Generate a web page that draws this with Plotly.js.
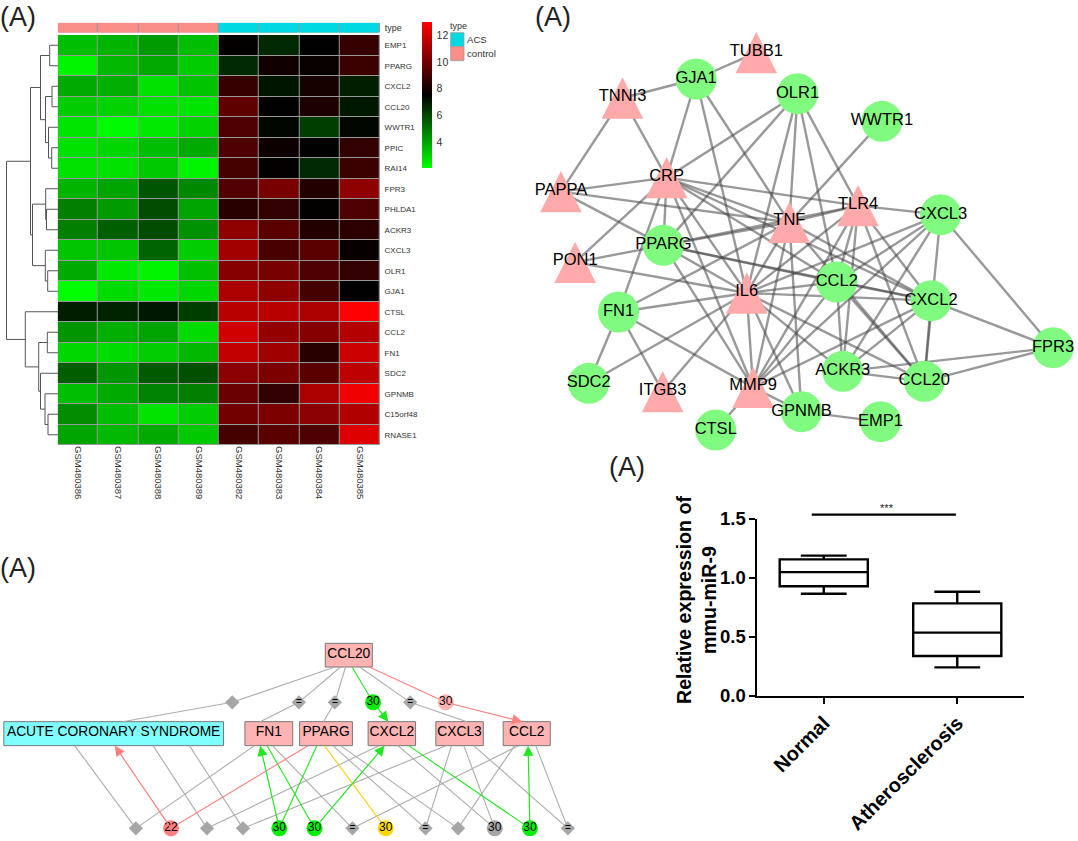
<!DOCTYPE html>
<html><head><meta charset="utf-8">
<script src="https://cdn.plot.ly/plotly-3.0.1.min.js"></script>
<style>html,body{margin:0;padding:0;background:#fff}#c{width:1078px;height:841px}</style>
</head><body><div id="c"></div>
<script>
// ---------- heatmap data ----------
const genes = ["EMP1","PPARG","CXCL2","CCL20","WWTR1","PPIC","RAI14","FPR3","PHLDA1","ACKR3","CXCL3","OLR1","GJA1","CTSL","CCL2","FN1","SDC2","GPNMB","C15orf48","RNASE1"];
const samples = ["GSM480386","GSM480387","GSM480388","GSM480389","GSM480382","GSM480383","GSM480384","GSM480385"];
const sampleType = [1,1,1,1,0,0,0,0];
const expr = [
[3.44,3.65,4.19,3.44,7.6,6.65,7.5,8.7],
[2.26,3.55,3.87,3.12,6.65,7.9,7.7,8.8],
[3.87,3.76,2.7,3.33,8.7,7.07,8.0,6.86],
[3.12,3.0,2.7,2.6,9.55,7.5,8.15,7.0],
[2.6,2.16,2.5,3.0,9.2,7.4,6.2,7.4],
[2.7,2.9,3.44,3.87,9.2,7.8,7.5,8.6],
[2.7,2.7,3.2,2.26,9.0,7.6,6.65,8.8],
[3.65,4.0,5.7,4.6,9.3,10.1,8.25,10.6],
[4.8,4.2,5.9,4.0,8.4,8.6,7.6,9.2],
[4.8,5.47,5.9,4.4,10.6,9.45,8.25,8.5],
[3.3,3.3,5.36,3.1,11.0,9.1,9.45,7.65],
[3.87,2.5,2.26,3.4,10.4,10.1,9.2,8.6],
[2.05,2.8,2.5,2.9,11.2,10.6,9.0,7.5],
[6.86,6.75,7.0,6.2,11.5,11.5,11.2,13.0],
[4.3,3.76,4.0,2.8,12.0,10.7,10.4,11.4],
[2.9,2.8,3.1,3.55,11.7,10.95,8.4,11.9],
[5.5,4.3,5.6,5.8,10.5,10.2,9.45,11.6],
[3.44,3.87,4.7,4.8,9.8,8.6,11.2,12.7],
[4.5,3.44,2.6,3.1,10.0,10.2,10.5,11.3],
[4.0,3.55,3.87,3.2,9.0,9.45,9.2,12.3]];
const typeNames = ["ACS","control"];
const typeColors = ["#00D8E2","#FA8E88"];
// dendrogram brackets: [row A, height A, row B, height B, merge height]
const dendroMerges = [
[0,0,1,0,8.3],[2,0,3,0,6],[5,0,6,0,6.3],[4,0,5.5,6.3,9.5],[2.5,6,4.75,9.5,12.5],[0.5,8.3,3.63,12.5,17.5],
[8,0,9,0,11.5],[7,0,8.5,11.5,12.3],[11,0,12,0,10.3],[10,0,11.5,10.3,12.7],[7.75,12.3,10.75,12.7,25.5],
[2.06,17.5,9.25,25.5,27.5],[14,0,15,0,10.7],[18,0,19,0,10],[17,0,18.5,10,13],[16,0,17.75,13,17.5],
[14.5,10.7,16.88,17.5,19.3],[13,0,15.69,19.3,32.7],[5.66,27.5,14.35,32.7,51.5]];
// ---------- network data (drawing units of the panel) ----------
const circleNames = ["GJA1","OLR1","WWTR1","CXCL3","PPARG","CCL2","CXCL2","FN1","FPR3","ACKR3","CCL20","SDC2","GPNMB","EMP1","CTSL"];
const circleX = [495,780,1017,1182,403,890,1155,277,1498,907,1136,193,791,1013,550];
const circleY = [237,281,364,644,736,846,902,936,1043,1114,1144,1150,1235,1265,1290];
const triNames = ["TUBB1","TNNI3","CRP","PAPPA","TLR4","TNF","PON1","IL6","ITGB3","MMP9"];
const triX = [664,288,412,115,950,757,155,637,401,655];
const triY = [158,294,533,575,617,667,787,879,1175,1162];
const netEdges = [["TUBB1","GJA1"],["GJA1","TNNI3"],["GJA1","CRP"],["GJA1","IL6"],["GJA1","TNF"],["TNNI3","PAPPA"],["TNNI3","CRP"],
["OLR1","CRP"],["OLR1","PPARG"],["OLR1","IL6"],["OLR1","TNF"],["OLR1","CCL2"],["OLR1","TLR4"],["WWTR1","TNF"],
["PAPPA","CRP"],["PAPPA","TNF"],["PAPPA","PPARG"],["CRP","TLR4"],["CRP","TNF"],["CRP","PPARG"],["CRP","PON1"],["CRP","FN1"],["CRP","IL6"],["CRP","MMP9"],["CRP","CCL2"],["CRP","CXCL2"],
["TNF","TLR4"],["TNF","PPARG"],["TNF","FN1"],["TNF","IL6"],["TNF","MMP9"],["TNF","GPNMB"],["TNF","CCL20"],["TNF","CXCL2"],
["TLR4","CXCL3"],["TLR4","IL6"],["TLR4","MMP9"],["TLR4","CCL2"],["TLR4","ACKR3"],["TLR4","CCL20"],["TLR4","CXCL2"],["TLR4","PPARG"],
["PON1","PPARG"],["PON1","IL6"],["PPARG","IL6"],["PPARG","CCL2"],["PPARG","MMP9"],["PPARG","CXCL2"],
["FN1","IL6"],["FN1","SDC2"],["FN1","ITGB3"],["FN1","MMP9"],["SDC2","IL6"],["ITGB3","IL6"],
["IL6","CXCL3"],["IL6","CCL2"],["IL6","CXCL2"],["IL6","ACKR3"],["IL6","CCL20"],["IL6","MMP9"],["IL6","GPNMB"],
["CXCL3","CCL2"],["CXCL3","ACKR3"],["CXCL3","CCL20"],["CXCL3","FPR3"],["CXCL3","MMP9"],
["CCL2","CXCL2"],["CCL2","ACKR3"],["CCL2","CCL20"],["CCL2","MMP9"],["CXCL2","MMP9"],["CXCL2","ACKR3"],["CXCL2","FPR3"],["CXCL2","CCL20"],
["ACKR3","CCL20"],["ACKR3","FPR3"],["CCL20","FPR3"],["MMP9","CTSL"],["GPNMB","EMP1"],["MMP9","GPNMB"]];
// ---------- pathway data (drawing units of the panel) ----------
const boxNames = ["CCL20","ACUTE CORONARY SYNDROME","FN1","PPARG","CXCL2","CXCL3","CCL2"];
const boxX0 = [850,10,640,783,962,1139,1315];
const boxX1 = [973,584,765,921,1086,1263,1438];
const boxY0 = [70,305,305,305,305,305,305];
const boxY1 = [141,377,377,377,377,377,377];
const boxFill = ["#FFB3B3","#80FFFF","#FFB3B3","#FFB3B3","#FFB3B3","#FFB3B3","#FFB3B3"];
const pathX = [607,781,875,975,1072,1165,355,447,541,635,730,822,921,1008,1112,1197,1293,1385,1484];
const pathY = [247,247,247,247,247,247,625,625,625,625,625,625,625,625,625,625,625,625,625];
const pathLabel = ["","=","=","30","=","30","","22","","","30","30","=","30","=","","30","30","="];
const pathKind = ["d","d","d","c","d","c","d","c","d","d","c","c","d","c","d","d","c","c","d"];
const pathColor = ["#A6A6A6","#A6A6A6","#A6A6A6","#00EE00","#A6A6A6","#FFB3B3","#A6A6A6","#FF8080","#A6A6A6","#A6A6A6","#00EE00","#00EE00","#A6A6A6","#FFD700","#A6A6A6","#A6A6A6","#A6A6A6","#00EE00","#A6A6A6"];
const greyEdges = [[875,141,607,247],[890,141,781,247],[903,141,875,247],[940,141,1072,247],[607,247,320,305],[781,247,680,305],[875,247,845,305],[1072,247,1220,305],
[195,377,355,625],[400,377,541,625],[495,377,635,625],[665,377,355,625],[712,377,921,625],[870,377,1112,625],[890,377,1197,625],[990,377,541,625],[1040,377,1293,625],
[1165,377,635,625],[1180,377,1112,625],[1212,377,1293,625],[1238,377,1484,625],[1355,377,921,625],[1345,377,1197,625],[1400,377,1484,625]];
const greenEdges = [[920,141,975,247],[698,377,822,625],[828,377,730,625],[1068,377,1385,625]];
const pinkEdges = [[965,141,1165,247],[805,377,447,625]];
const yellowEdges = [[848,377,1008,625]];
const greenArrows = [[975,247,1015,305],[730,625,680,377],[822,625,1005,377],[1385,625,1380,377]];
const pinkArrows = [[1165,247,1365,305],[447,625,300,377]];
// ---------- box plot data ----------
const boxCats = ["Normal","Atherosclerosis"];
const boxPos = [0,1];
const q1 = [0.93,0.339];
const med = [1.05,0.537];
const q3 = [1.158,0.785];
const lowF = [0.867,0.243];
const upF = [1.19,0.884];
const sigX = [-0.09,0.99];
const sigY = [1.537,1.537];
const sigTextX = [0.47];
const sigTextY = [1.585];

// ---------- layout helpers ----------
const W=1078,H=841;
const dx=(a,b)=>[a/W,b/W];
const dy=(t,b)=>[1-b/H,1-t/H];
const AX={showgrid:false,zeroline:false,showline:false,ticks:'',showticklabels:false,fixedrange:true};
const FONT='"Liberation Sans",Arial,sans-serif';
const traces=[];

// heatmap
traces.push({type:'heatmap',x:samples,y:genes,z:expr,xaxis:'x',yaxis:'y',xgap:1,ygap:1,zmin:2.05,zmax:13,hoverinfo:'skip',
 colorscale:[[0,'#00FF00'],[0.5,'#000000'],[1,'#FF0000']],
 colorbar:{x:422/W,xanchor:'left',xpad:0,y:1-22/H,yanchor:'top',ypad:0,thickness:10,thicknessmode:'pixels',len:146,lenmode:'pixels',
  tickvals:[4,6,8,10,12],ticks:'outside',ticklen:3,tickcolor:'rgba(0,0,0,0)',outlinewidth:0,tickfont:{family:FONT,size:10.5,color:'#333'}}});
// annotation strip
traces.push({type:'heatmap',x:samples,y:['type'],z:[sampleType],xaxis:'x2',yaxis:'y2',xgap:1,ygap:0,zmin:0,zmax:1,showscale:false,hoverinfo:'skip',
 colorscale:[[0,typeColors[0]],[1,typeColors[1]]]});
// dendrogram
{const xs=[],ys=[];
 dendroMerges.forEach(m=>{xs.push(m[1],m[4],m[4],m[3],null);ys.push(m[0],m[0],m[2],m[2],null);});
 traces.push({type:'scatter',mode:'lines',x:xs,y:ys,xaxis:'x3',yaxis:'y3',line:{color:'#555',width:1},hoverinfo:'skip',connectgaps:false});}

// network edges
const nodeXY={};
circleNames.forEach((n,i)=>nodeXY[n]=[circleX[i],circleY[i]]);
triNames.forEach((n,i)=>nodeXY[n]=[triX[i],triY[i]]);
netEdges.forEach(e=>{const a=nodeXY[e[0]],b=nodeXY[e[1]];
 traces.push({type:'scatter',mode:'lines',x:[a[0],b[0]],y:[a[1],b[1]],xaxis:'x4',yaxis:'y4',line:{color:'rgba(70,70,70,0.55)',width:2.4},hoverinfo:'skip'});});
// network nodes
{const tx=[],ty=[];
 triX.forEach((x,i)=>{tx.push(x-58.5,x+58.5,x,x-58.5,null);ty.push(triY[i]+62,triY[i]+62,triY[i]-62,triY[i]+62,null);});
 traces.push({type:'scatter',mode:'lines',x:tx,y:ty,xaxis:'x4',yaxis:'y4',fill:'toself',fillcolor:'#FFAAAA',line:{width:0,color:'#FFAAAA'},hoverinfo:'skip'});}
traces.push({type:'scatter',mode:'markers',x:circleX,y:circleY,xaxis:'x4',yaxis:'y4',cliponaxis:false,marker:{size:41,color:'#80FB80',line:{width:0}},hoverinfo:'skip'});
traces.push({type:'scatter',mode:'text',x:circleX.concat(triX),y:circleY.concat(triY.map(v=>v-3)),text:circleNames.concat(triNames),xaxis:'x4',yaxis:'y4',cliponaxis:false,
 textposition:'middle center',textfont:{family:FONT,size:16.5,color:'#000'},hoverinfo:'skip'});

// pathway edges
function edgeTrace(list,color){const xs=[],ys=[];list.forEach(e=>{xs.push(e[0],e[2],null);ys.push(e[1],e[3],null);});
 traces.push({type:'scatter',mode:'lines',x:xs,y:ys,xaxis:'x5',yaxis:'y5',line:{color:color,width:1.1},hoverinfo:'skip'});}
edgeTrace(greyEdges,'#ADADAD');edgeTrace(greenEdges,'#22E622');edgeTrace(pinkEdges,'#FF8080');edgeTrace(yellowEdges,'#FFCC11');
// pathway small nodes
const idxD=pathKind.map((k,i)=>k==='d'?i:-1).filter(i=>i>=0), idxC=pathKind.map((k,i)=>k==='c'?i:-1).filter(i=>i>=0);
traces.push({type:'scatter',mode:'markers+text',x:idxD.map(i=>pathX[i]),y:idxD.map(i=>pathY[i]),text:idxD.map(i=>pathLabel[i]),xaxis:'x5',yaxis:'y5',cliponaxis:false,
 marker:{symbol:'diamond',size:11,color:idxD.map(i=>pathColor[i])},textposition:'middle center',textfont:{family:FONT,size:10,color:'#000'},hoverinfo:'skip'});
traces.push({type:'scatter',mode:'markers+text',x:idxC.map(i=>pathX[i]),y:idxC.map(i=>pathY[i]),text:idxC.map(i=>pathLabel[i]),xaxis:'x5',yaxis:'y5',cliponaxis:false,
 marker:{symbol:'circle',size:16,color:idxC.map(i=>pathColor[i])},textposition:'middle center',textfont:{family:FONT,size:12,color:'#000'},hoverinfo:'skip'});
// pathway box labels
traces.push({type:'scatter',mode:'text',x:boxX0.map((v,i)=>(v+boxX1[i])/2),y:boxY0.map((v,i)=>(v+boxY1[i])/2-2),text:boxNames,xaxis:'x5',yaxis:'y5',cliponaxis:false,
 textposition:'middle center',textfont:{family:FONT,size:13.8,color:'#000'},hoverinfo:'skip'});

// box plot
traces.push({type:'box',x:boxPos,q1:q1,median:med,q3:q3,lowerfence:lowF,upperfence:upF,xaxis:'x6',yaxis:'y6',width:0.66,whiskerwidth:0.52,
 fillcolor:'rgba(0,0,0,0)',line:{color:'#000',width:2.4},hoverinfo:'skip'});
traces.push({type:'scatter',mode:'lines',x:sigX,y:sigY,xaxis:'x7',yaxis:'y7',line:{color:'#000',width:2.2},hoverinfo:'skip'});
traces.push({type:'scatter',mode:'text',x:sigTextX,y:sigTextY,text:['***'],xaxis:'x7',yaxis:'y7',textposition:'middle center',textfont:{family:FONT,size:11,color:'#222'},hoverinfo:'skip'});

// shapes
const shapes=[];
shapes.push({type:'rect',xref:'x',yref:'y',x0:-0.5,x1:7.5,y0:-0.5,y1:19.5,layer:'below',fillcolor:'#999',line:{width:0}});
shapes.push({type:'rect',xref:'x2',yref:'y2',x0:-0.5,x1:7.5,y0:-0.5,y1:0.5,layer:'below',fillcolor:'#999',line:{width:0}});
boxNames.forEach((n,i)=>shapes.push({type:'rect',xref:'x5',yref:'y5',x0:boxX0[i],x1:boxX1[i],y0:boxY0[i],y1:boxY1[i],fillcolor:boxFill[i],line:{color:'#777',width:1},layer:'below'}));
typeNames.forEach((n,i)=>shapes.push({type:'rect',xref:'paper',yref:'paper',x0:450.7/W,x1:464/W,y0:1-(32.7+14*i)/H,y1:1-(46.7+14*i)/H,fillcolor:typeColors[i],line:{color:'#999',width:0.8}}));

// annotations
const ann=[];
[[18,17],[553,17],[627,467],[18,568]].forEach(p=>ann.push({xref:'paper',yref:'paper',x:p[0]/W,y:1-p[1]/H,text:'(A)',showarrow:false,xanchor:'center',yanchor:'middle',font:{family:FONT,size:27,color:'#222'}}));
ann.push({xref:'paper',yref:'paper',x:450/W,y:1-26/H,text:'type',showarrow:false,xanchor:'left',yanchor:'middle',xshift:-2,font:{family:FONT,size:9,color:'#333'}});
typeNames.forEach((n,i)=>ann.push({xref:'paper',yref:'paper',x:467/W,y:1-(39.7+14*i)/H,text:n,showarrow:false,xanchor:'left',yanchor:'middle',xshift:-2,font:{family:FONT,size:9.6,color:'#333'}}));
ann.push({xref:'paper',yref:'paper',x:696/W,y:1-600/H,text:'Relative expression of<br>mmu-miR-9',showarrow:false,textangle:-90,xanchor:'center',yanchor:'middle',font:{family:FONT,size:19.6,weight:'bold',color:'#000'}});
function arrows(list,color){list.forEach(e=>ann.push({xref:'x5',yref:'y5',axref:'x5',ayref:'y5',x:e[2],y:e[3],ax:e[0],ay:e[1],text:'',showarrow:true,arrowhead:2,arrowsize:1.7,arrowwidth:1.2,arrowcolor:color,standoff:0,startstandoff:0}));}
arrows(greenArrows,'#22E622');arrows(pinkArrows,'#FF8080');

const layout={width:W,height:H,margin:{l:0,r:0,t:0,b:0},paper_bgcolor:'#fff',plot_bgcolor:'rgba(0,0,0,0)',showlegend:false,font:{family:FONT},shapes:shapes,annotations:ann,
 xaxis:{...AX,domain:dx(57.7,380),type:'category',anchor:'y',range:[-0.5,7.5],showticklabels:true,tickangle:90,tickfont:{family:FONT,size:9.5,color:'#333'},ticklen:0},
 yaxis:{...AX,domain:dy(35,445),type:'category',anchor:'x',side:'right',range:[19.5,-0.5],showticklabels:true,ticks:'outside',ticklen:2,tickcolor:'rgba(0,0,0,0)',tickfont:{family:FONT,size:8,color:'#333'}},
 xaxis2:{...AX,domain:dx(57.7,380),type:'category',anchor:'y2',range:[-0.5,7.5]},
 yaxis2:{...AX,domain:dy(22.7,32.7),type:'category',anchor:'x2',side:'right',showticklabels:true,ticks:'outside',ticklen:2,tickcolor:'rgba(0,0,0,0)',tickfont:{family:FONT,size:9,color:'#333'}},
 xaxis3:{...AX,domain:dx(5,58),anchor:'y3',range:[53,0]},
 yaxis3:{...AX,domain:dy(35,445),anchor:'x3',range:[19.5,-0.5]},
 xaxis4:{...AX,domain:dx(520,1078),anchor:'y4',range:[0,1568]},
 yaxis4:{...AX,domain:dy(0,460),anchor:'x4',range:[1380,0]},
 xaxis5:{...AX,domain:dx(0,600),anchor:'y5',range:[0,1568]},
 yaxis5:{...AX,domain:dy(620,841),anchor:'x5',range:[663,0]},
 xaxis6:{domain:dx(757,1024),anchor:'y6',range:[-0.5,1.5],showgrid:false,zeroline:false,showline:true,linecolor:'#000',linewidth:1.6,ticks:'outside',ticklen:6,tickwidth:1.6,tickcolor:'#000',
  tickvals:boxPos,ticktext:boxCats,tickangle:-45,tickfont:{family:FONT,size:20,weight:'bold',color:'#000'}},
 yaxis6:{domain:dy(519,696),anchor:'x6',range:[0,1.5],showgrid:false,zeroline:false,showline:true,linecolor:'#000',linewidth:1.6,ticks:'outside',ticklen:6,tickwidth:1.6,tickcolor:'#000',
  tickvals:[0,0.5,1,1.5],ticktext:['0.0','0.5','1.0','1.5'],tickfont:{family:FONT,size:18.5,weight:'bold',color:'#000'}},
 xaxis7:{...AX,domain:dx(757,1024),anchor:'y7',range:[-0.5,1.5]},
 yaxis7:{...AX,domain:dy(500,696),anchor:'x7',range:[0,1.661]}
};
Plotly.newPlot('c',traces,layout,{displayModeBar:false,staticPlot:true});
</script></body></html>
